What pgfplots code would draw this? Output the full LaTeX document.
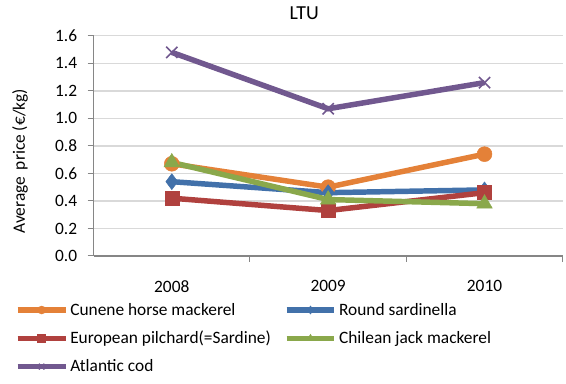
\documentclass[border=0pt]{standalone}
\usepackage{fontspec}
\setmainfont{Carlito}
\usepackage{pgfplots}
\pgfplotsset{compat=1.18}

\definecolor{cOrange}{RGB}{228,129,56}
\definecolor{cBlue}{RGB}{66,113,170}
\definecolor{cRed}{RGB}{176,65,62}
\definecolor{cGreen}{RGB}{138,168,75}
\definecolor{cPurple}{RGB}{113,88,143}
\definecolor{axgray}{RGB}{134,134,134}
\definecolor{gridc}{RGB}{217,217,217}

\begin{document}
\begin{tikzpicture}
\begin{axis}[
    at={(0,0)}, anchor=south west,
    scale only axis,
    width=471bp, height=221bp,
    xmin=-0.5, xmax=2.5,
    ymin=0, ymax=1.6,
    xtick={0.5,1.5,2.5},
    xticklabels={},
    extra x ticks={0,1,2},
    extra x tick labels={2008,2009,2010},
    extra x tick style={major tick length=0pt, grid=none,
        xticklabel style={yshift=-21bp}},
    ytick={0,0.2,...,1.6},
    yticklabel style={xshift=-7bp, /pgf/number format/.cd, fixed, fixed zerofill, precision=1},
    /pgf/number format/assume math mode=true,
    tick align=outside,
    tick pos=left,
    major tick length=6bp,
    tick style={axgray, line width=1bp},
    axis x line*=bottom,
    axis y line*=left,
    axis line style={axgray, line width=1.3bp},
    ymajorgrids,
    grid style={gridc, line width=1.3bp},
    ticklabel style={font=\fontsize{17.5}{20}\selectfont, black},
    title={LTU},
    title style={at={(axis description cs:0.449,1)}, anchor=base, yshift=10bp, font=\fontsize{20}{22}\selectfont},
    ylabel={Average\, price (€/kg)},
    ylabel style={at={(axis description cs:-0.157,0.43)}, anchor=center, font=\fontsize{17.5}{20}\selectfont},
    legend columns=2,
    legend style={at={(axis description cs:-0.168,-0.205)}, anchor=north west, draw=none,
        font=\fontsize{17.5}{20}\selectfont, inner xsep=0pt, inner ysep=0pt,
        /tikz/every even column/.append style={column sep=11bp},
        row sep=10.5bp},
    legend cell align=left,
    legend image code/.code={\draw[mark repeat=2, mark phase=2, mark size=4bp]
        plot coordinates {(0bp,0bp) (24bp,0bp) (48bp,0bp)};},
    every axis plot/.append style={line width=5.5bp},
]
\addplot[cOrange, mark=*, mark size=7.5bp, mark options={solid, line width=0.5bp}]
    coordinates {(0,0.67) (1,0.50) (2,0.74)};
\addlegendentry{Cunene horse mackerel}
\addplot[cBlue, mark=diamond*, mark size=8bp, mark options={solid, line width=0.5bp}]
    coordinates {(0,0.54) (1,0.46) (2,0.48)};
\addlegendentry{Round sardinella}
\addplot[cRed, mark=square*, mark size=7bp, mark options={solid, line width=0.5bp}]
    coordinates {(0,0.42) (1,0.33) (2,0.46)};
\addlegendentry{European pilchard(=Sardine)}
\addplot[cGreen, mark=triangle*, mark size=9bp, mark options={solid, line width=0.5bp}]
    coordinates {(0,0.68) (1,0.41) (2,0.38)};
\addlegendentry{Chilean jack mackerel}
\addplot[cPurple, mark=x, mark size=8bp, mark options={solid, line width=1.6bp}]
    coordinates {(0,1.48) (1,1.07) (2,1.26)};
\addlegendentry{Atlantic cod}
\end{axis}
\path[use as bounding box] (-94bp,-128bp) rectangle (472bp,257bp);
\end{tikzpicture}
\end{document}
